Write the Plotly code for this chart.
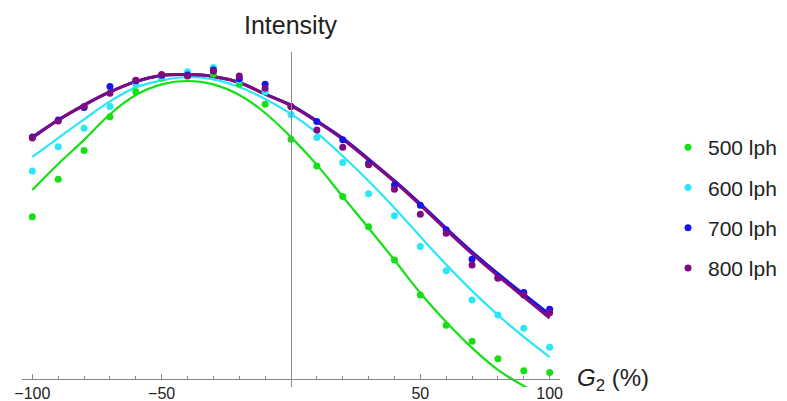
import plotly.graph_objects as go

# Data (arbitrary intensity units)
g2 = [-100, -90, -80, -70, -60, -50, -40, -30, -20, -10, 0,
      10, 20, 30, 40, 50, 60, 70, 80, 90, 100]

pts_500 = [53.2, 65.5, 74.9, 86.0, 94.2, 98.7, 100.2, 99.9, 96.7, 90.1, 78.6,
           69.8, 59.8, 49.9, 39.0, 27.5, 17.6, 12.4, 6.6, 2.7, 2.1]
pts_600 = [68.2, 76.1, 82.2, 89.3, 96.7, 99.0, 100.7, 102.1, 98.0, 94.1, 86.7,
           79.2, 71.0, 60.7, 53.5, 43.4, 35.5, 25.9, 21.0, 16.6, 10.4]
pts_700 = [79.3, 84.9, 89.0, 95.9, 97.8, 99.6, 99.7, 101.3, 98.4, 96.6, 89.3,
           84.4, 78.4, 70.7, 63.6, 57.0, 48.9, 39.3, 33.3, 28.4, 22.9]
pts_800 = [79.0, 84.6, 89.3, 93.7, 97.9, 99.8, 99.3, 101.0, 99.3, 95.3, 89.3,
           81.6, 76.0, 70.2, 62.2, 54.0, 47.8, 37.4, 33.0, 27.5, 21.7]

fit_500 = [62.0, 70.5, 78.4, 86.8, 93.1, 96.6, 97.7, 96.6, 93.1, 87.2, 79.3,
           70.2, 59.8, 49.5, 39.0, 28.2, 18.7, 10.2, 3.0, -2.3, -6.6]
fit_600 = [72.8, 79.0, 85.1, 91.0, 95.6, 97.9, 99.0, 98.2, 95.7, 91.8, 86.9,
           80.7, 73.1, 64.9, 56.1, 46.7, 37.5, 28.9, 21.0, 13.8, 7.2]
fit_700 = [79.3, 84.9, 89.8, 94.1, 97.5, 99.5, 99.8, 99.2, 97.2, 93.4, 89.8,
           84.6, 78.9, 72.1, 65.0, 57.4, 49.4, 41.7, 34.5, 27.8, 21.2]
fit_800 = [79.0, 84.9, 89.8, 94.1, 97.5, 99.5, 99.8, 99.2, 97.2, 93.4, 89.6,
           84.4, 78.6, 71.8, 64.7, 57.0, 48.9, 41.1, 33.8, 26.9, 20.0]

series_names = ["500 lph", "600 lph", "700 lph", "800 lph"]
colors = ["#14e014", "#2ae6f6", "#1414ee", "#800a80"]
line_widths = [2.2, 2.2, 3, 3]

major_ticks = [-100, -50, 50, 100]
major_labels = ["\u2212100", "\u221250", "50", "100"]
minor_ticks = [-90, -80, -70, -60, -40, -30, -20, -10, 10, 20, 30, 40, 60, 70, 80, 90]

FONT = "Arial, Liberation Sans, sans-serif"

fig = go.Figure()

all_pts = [pts_500, pts_600, pts_700, pts_800]
all_fit = [fit_500, fit_600, fit_700, fit_800]

for name, fit, c, w in zip(series_names, all_fit, colors, line_widths):
    fig.add_trace(go.Scatter(x=g2, y=fit, mode="lines", line=dict(color=c, width=w, shape="spline", smoothing=1.0),
                             showlegend=False, hoverinfo="skip"))

for i, (name, pts, c) in enumerate(zip(series_names, all_pts, colors)):
    fig.add_trace(go.Scatter(x=g2, y=pts, mode="markers", name=name,
                             marker=dict(color=c, size=7), legendgroup=name, cliponaxis=False))

# the page body adds an 8px offset; margins compensate for it
fig.update_layout(
    template="none",
    width=787, height=401,
    margin=dict(l=14, r=235, t=44, b=22, autoexpand=False),
    paper_bgcolor="white", plot_bgcolor="white",
    font=dict(family=FONT, color="#222"),
    xaxis=dict(range=[-104, 104], anchor="free", position=8/335, automargin=False,
               showline=True, linecolor="#8a8a8a", linewidth=1,
               showgrid=False, zeroline=False,
               tickmode="array", tickvals=major_ticks, ticktext=major_labels,
               ticks="inside", ticklen=5, tickcolor="#8a8a8a", tickwidth=1,
               tickfont=dict(size=16, color="#222", family=FONT),
               minor=dict(tickmode="array", tickvals=minor_ticks, ticks="inside",
                          ticklen=3, tickcolor="#8a8a8a", tickwidth=1, showgrid=False)),
    yaxis=dict(range=[-2.62, 107.2], anchor="free", position=0.5, automargin=False,
               showline=True, linecolor="#8a8a8a", linewidth=1,
               showgrid=False, zeroline=False, showticklabels=False, ticks=""),
    legend=dict(x=(668 - 22) / 538, xanchor="left", y=(387 - 127) / 335, yanchor="top",
                font=dict(size=21, color="#222", family=FONT),
                bgcolor="rgba(0,0,0,0)", tracegroupgap=10, itemwidth=30),
    annotations=[
        dict(text="Intensity", x=0, xref="x", y=(387 - 25) / 335, yref="paper",
             showarrow=False, xanchor="center", yanchor="middle",
             font=dict(size=25, color="#222", family=FONT)),
        dict(text="<i>G</i><sub>2</sub> (%)", x=(575 - 22) / 538, xref="paper",
             y=(387 - 379) / 335, yref="paper", showarrow=False,
             xanchor="left", yanchor="middle",
             font=dict(size=24, color="#222", family=FONT)),
    ],
)

fig.write_html("out.html")
